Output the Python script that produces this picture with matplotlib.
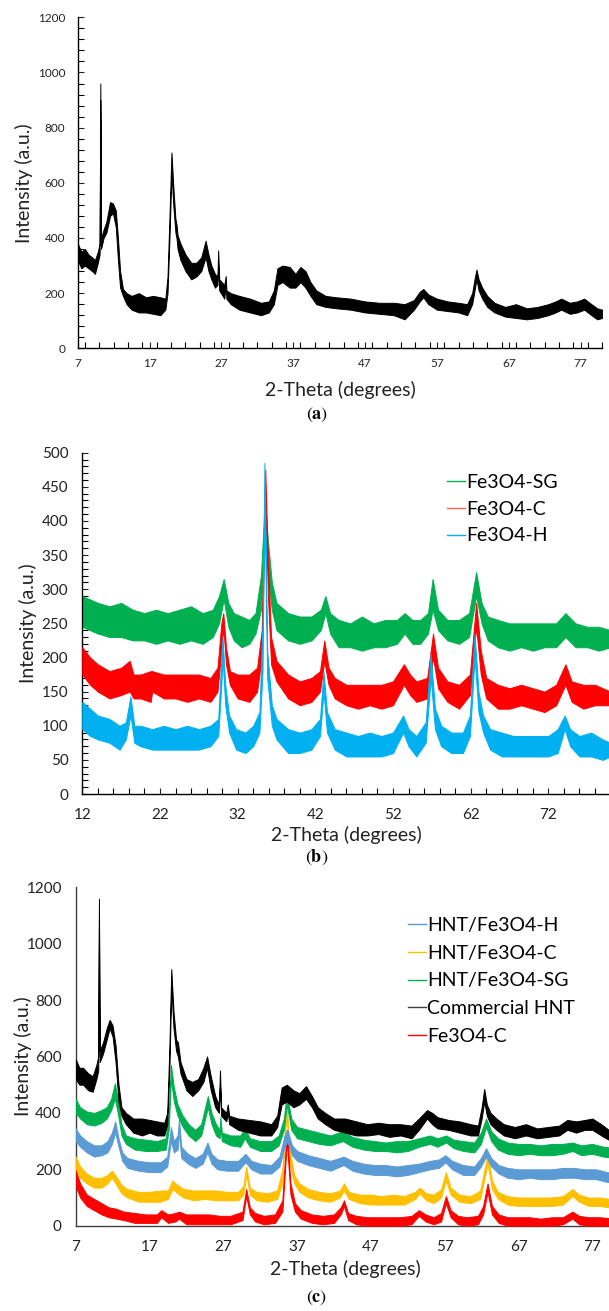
import matplotlib
matplotlib.use("Agg")
import matplotlib.pyplot as plt
from matplotlib.lines import Line2D
from matplotlib.ticker import MultipleLocator, FixedLocator

plt.rcParams['font.family'] = ['Lato', 'DejaVu Sans']
plt.rcParams['mathtext.fontset'] = 'stix'

# ---- data: (2-theta, lower edge of noise band, upper edge) ----
# panel (a): commercial HNT
a_hnt = [(7.0, 320, 380), (7.5, 290, 350), (8.0, 300, 360), (8.5, 290, 340), (9.0, 280, 330),
         (9.4, 270, 320), (9.8, 310, 350), (10.05, 340, 380), (10.15, 900, 960), (10.25, 360, 400),
         (10.6, 400, 430), (11.0, 420, 460), (11.5, 480, 530), (11.9, 490, 525), (12.3, 440, 500),
         (12.6, 320, 400), (12.9, 220, 280), (13.3, 190, 215), (13.8, 160, 200), (14.5, 140, 190),
         (15.5, 130, 200), (16.5, 130, 185), (17.5, 125, 190), (18.5, 120, 185), (19.2, 140, 180),
         (19.5, 200, 260), (19.8, 420, 500), (20.05, 640, 710), (20.3, 520, 590), (20.6, 420, 470),
         (20.75, 400, 450), (20.9, 360, 410), (21.3, 320, 380), (22.0, 280, 340), (22.8, 250, 310),
         (23.5, 260, 310), (24.2, 280, 330), (24.8, 330, 390), (25.2, 280, 340), (25.6, 250, 300),
         (26.1, 220, 270), (26.45, 230, 260), (26.55, 300, 355), (26.7, 210, 250), (27.4, 180, 230),
         (27.6, 230, 262), (27.7, 180, 210), (28.3, 160, 200), (29.5, 140, 190), (31.0, 130, 180),
         (32.5, 120, 165), (33.6, 130, 170), (34.3, 160, 210), (34.8, 230, 290), (35.5, 240, 300),
         (36.5, 220, 295), (37.3, 220, 270), (38.0, 240, 295), (38.7, 220, 280), (39.4, 190, 240),
         (40.2, 160, 210), (41.5, 150, 190), (43.0, 145, 185), (45.0, 140, 180), (47.0, 130, 170),
         (49.0, 125, 165), (51.0, 120, 165), (52.5, 105, 160), (53.8, 140, 175), (54.6, 170, 205),
         (55.1, 185, 215), (55.8, 160, 195), (57.0, 140, 180), (58.5, 135, 170), (60.0, 130, 165),
         (61.2, 120, 160), (61.9, 160, 200), (62.3, 220, 260), (62.5, 250, 285), (62.8, 210, 250),
         (63.3, 180, 220), (64.0, 150, 190), (65.0, 130, 165), (66.5, 115, 150), (68.0, 110, 160),
         (69.5, 105, 145), (71.0, 110, 150), (72.5, 120, 160), (73.5, 130, 170), (74.3, 140, 180),
         (75.5, 125, 165), (76.5, 130, 170), (77.5, 140, 180), (78.5, 120, 160), (79.3, 105, 145),
         (80.0, 110, 140)]

# panel (b): Fe3O4 samples
b_sg = [(12.0, 245, 290), (13.0, 240, 285), (14.0, 235, 280), (15.5, 230, 275), (17.0, 230, 280),
        (18.5, 225, 270), (20.0, 225, 265), (21.5, 220, 270), (23.0, 225, 265), (24.5, 220, 270),
        (26.0, 225, 275), (27.5, 220, 265), (28.8, 230, 270), (29.6, 250, 290), (30.2, 285, 315),
        (30.8, 245, 280), (31.5, 225, 265), (32.5, 215, 260), (33.5, 220, 255), (34.3, 235, 265),
        (35.0, 270, 320), (35.5, 380, 430), (35.9, 320, 370), (36.4, 270, 310), (37.0, 240, 280),
        (38.5, 225, 265), (40.0, 220, 260), (41.5, 225, 260), (42.7, 240, 270), (43.3, 265, 290),
        (43.9, 235, 265), (45.0, 215, 255), (46.5, 215, 250), (48.0, 210, 260), (49.5, 215, 250),
        (51.0, 215, 255), (52.5, 220, 255), (53.5, 235, 265), (54.5, 220, 255), (55.5, 220, 255),
        (56.5, 235, 265), (57.1, 270, 315), (57.8, 240, 270), (59.0, 225, 255), (60.5, 220, 255),
        (61.8, 230, 265), (62.7, 290, 325), (63.4, 250, 280), (64.2, 225, 260), (65.5, 215, 255),
        (67.0, 210, 250), (68.5, 215, 250), (70.0, 210, 250), (71.5, 215, 250), (73.0, 215, 250),
        (74.2, 230, 265), (75.5, 215, 250), (77.0, 215, 245), (78.5, 210, 245), (80.0, 215, 240)]

b_c = [(12.0, 175, 215), (13.0, 160, 200), (14.0, 150, 190), (15.5, 140, 180), (17.0, 145, 185),
       (18.1, 150, 195), (18.6, 140, 175), (19.5, 140, 175), (20.8, 135, 180), (21.0, 150, 180),
       (22.5, 140, 175), (24.0, 140, 175), (25.5, 135, 175), (27.0, 140, 175), (28.5, 135, 170),
       (29.4, 150, 185), (29.9, 210, 250), (30.15, 245, 265), (30.5, 190, 215), (31.0, 160, 180),
       (32.0, 140, 175), (33.5, 135, 175), (34.5, 150, 185), (35.1, 200, 240), (35.55, 440, 475),
       (35.9, 290, 340), (36.3, 190, 230), (37.0, 165, 195), (38.5, 140, 175), (40.0, 130, 165),
       (41.5, 135, 170), (42.6, 150, 180), (43.15, 195, 225), (43.7, 160, 185), (44.5, 140, 170),
       (46.0, 130, 160), (47.5, 125, 160), (49.0, 130, 160), (50.5, 125, 160), (52.0, 130, 165),
       (53.4, 160, 190), (54.2, 145, 175), (55.0, 135, 165), (56.4, 140, 170), (57.15, 200, 235),
       (57.8, 155, 185), (59.0, 135, 165), (60.5, 125, 160), (61.9, 145, 175), (62.7, 245, 280),
       (63.3, 175, 210), (64.0, 140, 170), (65.5, 125, 160), (67.0, 125, 155), (68.5, 130, 160),
       (70.0, 125, 155), (71.5, 120, 150), (73.0, 130, 160), (74.2, 160, 190), (75.0, 135, 165),
       (76.5, 125, 160), (78.0, 130, 160), (80.0, 130, 150)]

b_h = [(12.0, 95, 135), (13.0, 85, 125), (14.0, 80, 115), (15.5, 75, 110), (16.8, 65, 100),
       (17.6, 80, 105), (18.2, 115, 143), (18.7, 75, 100), (19.5, 70, 100), (21.0, 65, 95),
       (22.5, 65, 100), (24.0, 65, 95), (25.5, 65, 100), (27.0, 65, 95), (28.5, 70, 100),
       (29.5, 85, 110), (29.9, 160, 200), (30.05, 200, 230), (30.4, 130, 160), (30.9, 90, 115),
       (31.8, 65, 95), (33.0, 60, 90), (34.0, 70, 100), (34.8, 90, 120), (35.2, 180, 250),
       (35.45, 440, 485), (35.8, 170, 210), (36.4, 100, 130), (37.0, 80, 110), (38.5, 60, 95),
       (40.0, 60, 90), (41.5, 65, 95), (42.6, 85, 110), (43.05, 150, 180), (43.5, 90, 120),
       (44.5, 65, 95), (46.0, 55, 90), (47.5, 55, 85), (49.0, 55, 90), (50.5, 55, 85),
       (52.0, 60, 90), (53.3, 90, 115), (54.0, 70, 95), (55.0, 55, 85), (56.2, 75, 105),
       (56.85, 170, 205), (57.4, 95, 125), (58.2, 70, 100), (59.5, 60, 90), (61.0, 60, 90),
       (61.9, 85, 115), (62.5, 200, 235), (63.0, 120, 150), (63.6, 90, 115), (64.5, 65, 95),
       (66.0, 55, 90), (67.5, 55, 85), (69.0, 55, 85), (70.5, 55, 85), (72.0, 55, 85),
       (73.2, 60, 95), (74.1, 95, 115), (74.8, 70, 95), (76.0, 55, 85), (77.5, 55, 90),
       (79.0, 50, 80), (80.0, 55, 75)]

# panel (c): composites
c_hnt = [(7.0, 520, 590), (7.5, 500, 560), (8.0, 500, 560), (8.7, 480, 540), (9.3, 475, 530),
         (9.8, 520, 570), (10.05, 550, 600), (10.15, 1100, 1160), (10.25, 580, 620), (10.7, 610, 650),
         (11.2, 660, 700), (11.6, 700, 730), (12.0, 670, 710), (12.4, 580, 640), (12.8, 440, 500),
         (13.2, 390, 420), (13.8, 360, 400), (14.8, 330, 380), (16.0, 320, 380), (17.0, 330, 375),
         (18.0, 320, 370), (19.0, 320, 365), (19.4, 360, 400), (19.7, 560, 640), (19.95, 850, 910),
         (20.25, 700, 760), (20.6, 620, 660), (20.85, 600, 650), (21.2, 540, 580), (22.0, 480, 520),
         (22.8, 460, 510), (23.6, 480, 520), (24.3, 510, 560), (24.8, 560, 600), (25.3, 480, 530),
         (25.9, 420, 460), (26.4, 400, 430), (26.55, 500, 550), (26.7, 390, 420), (27.4, 370, 400),
         (27.6, 400, 430), (27.8, 360, 390), (29.0, 340, 380), (30.5, 330, 375), (32.0, 320, 370),
         (33.5, 320, 360), (34.3, 350, 390), (34.9, 430, 490), (35.6, 440, 500), (36.5, 420, 480),
         (37.3, 430, 470), (38.2, 450, 495), (39.0, 420, 460), (39.8, 380, 420), (40.8, 360, 400),
         (42.0, 340, 380), (43.5, 330, 380), (45.0, 320, 370), (46.5, 320, 360), (48.0, 325, 365),
         (49.5, 315, 360), (51.0, 320, 360), (52.5, 310, 355), (53.5, 340, 380), (54.6, 380, 410),
         (55.3, 360, 400), (56.0, 345, 385), (57.5, 340, 375), (59.0, 330, 370), (60.5, 320, 360),
         (61.5, 320, 355), (62.0, 380, 420), (62.35, 440, 485), (62.7, 390, 430), (63.2, 360, 400),
         (64.0, 340, 380), (65.0, 320, 360), (66.5, 310, 350), (68.0, 320, 360), (69.5, 310, 345),
         (71.0, 315, 350), (72.5, 320, 355), (73.6, 340, 375), (74.8, 330, 370), (76.0, 340, 375),
         (77.0, 340, 380), (78.2, 320, 360), (79.2, 305, 340), (80.0, 300, 330)]

c_sg = [(7.0, 400, 450), (7.6, 380, 420), (8.5, 360, 405), (9.5, 355, 400), (10.5, 365, 410),
        (11.2, 380, 420), (11.8, 410, 450), (12.3, 450, 505), (12.7, 400, 450), (13.2, 320, 360),
        (13.8, 290, 320), (15.0, 270, 310), (16.5, 265, 305), (18.0, 265, 300), (19.2, 270, 310),
        (19.6, 340, 400), (19.9, 520, 570), (20.3, 440, 490), (20.8, 390, 430), (21.5, 350, 390),
        (22.3, 320, 360), (23.2, 300, 340), (24.0, 320, 360), (24.9, 420, 460), (25.4, 360, 400),
        (26.0, 320, 360), (26.5, 310, 340), (26.6, 350, 385), (26.8, 300, 330), (28.0, 285, 320),
        (29.3, 280, 320), (29.9, 310, 345), (30.6, 280, 310), (32.0, 265, 300), (33.5, 265, 300),
        (34.5, 285, 320), (35.2, 340, 380), (35.6, 430, 470), (36.2, 340, 380), (37.0, 310, 350),
        (38.5, 300, 340), (40.0, 290, 330), (41.5, 285, 320), (43.2, 300, 335), (44.5, 280, 315),
        (46.0, 270, 305), (47.5, 265, 300), (49.0, 265, 295), (50.5, 260, 300), (52.0, 265, 300),
        (53.5, 280, 310), (55.0, 290, 320), (56.0, 280, 310), (57.2, 295, 320), (58.2, 275, 305),
        (59.5, 265, 300), (61.0, 260, 295), (61.9, 290, 330), (62.6, 350, 380), (63.3, 300, 335),
        (64.2, 270, 310), (65.5, 255, 295), (67.0, 250, 290), (68.5, 255, 290), (70.0, 250, 285),
        (71.5, 250, 290), (73.0, 255, 290), (74.3, 265, 295), (75.5, 250, 285), (77.0, 255, 290),
        (78.5, 245, 280), (80.0, 240, 275)]

c_h = [(7.0, 300, 345), (7.6, 280, 320), (8.5, 260, 300), (9.5, 245, 285), (10.5, 250, 285),
       (11.3, 260, 300), (11.9, 290, 330), (12.35, 330, 370), (12.8, 280, 310), (13.3, 230, 260),
       (14.0, 205, 240), (15.5, 195, 230), (17.0, 190, 225), (18.5, 190, 225), (19.4, 210, 245),
       (19.9, 300, 350), (20.3, 260, 300), (20.8, 270, 320), (21.0, 330, 380), (21.3, 240, 280),
       (22.2, 220, 255), (23.2, 205, 240), (24.2, 220, 255), (24.85, 260, 295), (25.4, 220, 255),
       (26.2, 200, 235), (27.5, 195, 230), (29.0, 195, 230), (30.0, 225, 255), (30.8, 200, 230),
       (32.0, 185, 220), (33.5, 185, 215), (34.6, 210, 245), (35.3, 280, 320), (35.7, 300, 340),
       (36.3, 250, 285), (37.0, 230, 265), (38.5, 215, 250), (40.0, 205, 240), (41.5, 195, 230),
       (43.3, 215, 245), (44.5, 195, 230), (46.0, 185, 220), (47.5, 180, 215), (49.0, 180, 215),
       (50.5, 175, 210), (52.0, 180, 215), (53.5, 190, 220), (55.0, 200, 230), (56.2, 205, 235),
       (57.1, 225, 250), (58.0, 200, 230), (59.5, 180, 215), (61.0, 180, 210), (61.9, 210, 240),
       (62.6, 245, 275), (63.3, 210, 240), (64.3, 185, 215), (65.5, 170, 205), (67.0, 165, 200),
       (68.5, 170, 200), (70.0, 165, 200), (71.5, 165, 200), (73.0, 170, 205), (74.5, 170, 205),
       (76.0, 165, 200), (77.5, 165, 200), (79.0, 155, 190), (80.0, 155, 185)]

c_c = [(7.0, 200, 245), (7.6, 170, 210), (8.5, 150, 185), (9.5, 135, 170), (10.5, 135, 170),
       (11.3, 150, 180), (11.9, 170, 195), (12.5, 145, 175), (13.2, 115, 145), (14.0, 100, 130),
       (15.5, 85, 120), (17.0, 85, 120), (18.5, 85, 125), (19.5, 95, 125), (20.1, 130, 160),
       (20.8, 115, 145), (21.6, 100, 130), (23.0, 90, 125), (24.5, 95, 125), (26.0, 90, 125),
       (27.5, 90, 120), (29.0, 90, 120), (29.7, 110, 140), (30.1, 180, 210), (30.6, 110, 135),
       (31.5, 90, 120), (33.0, 85, 115), (34.3, 95, 125), (35.0, 150, 200), (35.55, 400, 435),
       (36.0, 220, 270), (36.6, 150, 180), (37.3, 120, 150), (38.5, 100, 130), (40.0, 90, 120),
       (41.5, 85, 115), (42.8, 100, 125), (43.35, 125, 150), (44.0, 95, 120), (45.5, 80, 110),
       (47.0, 75, 110), (48.5, 75, 105), (50.0, 75, 110), (51.5, 75, 105), (53.0, 95, 120),
       (53.6, 115, 135), (54.5, 90, 115), (55.5, 80, 110), (56.5, 100, 130), (57.15, 160, 190),
       (57.8, 110, 135), (59.0, 85, 110), (60.5, 80, 105), (61.8, 95, 125), (62.8, 220, 255),
       (63.4, 130, 160), (64.2, 95, 120), (65.5, 75, 105), (67.0, 70, 100), (68.5, 70, 100),
       (70.0, 70, 100), (71.5, 70, 100), (73.0, 75, 105), (74.3, 105, 130), (75.2, 85, 110),
       (76.5, 70, 100), (78.0, 70, 100), (79.3, 65, 95), (80.0, 70, 95)]

c_fe = [(7.0, 140, 195), (7.6, 100, 150), (8.5, 70, 110), (9.5, 55, 95), (10.5, 40, 80),
        (11.5, 30, 65), (12.5, 25, 60), (13.5, 20, 50), (15.0, 10, 45), (16.5, 10, 40),
        (18.0, 10, 40), (18.6, 30, 55), (19.5, 10, 40), (20.5, 15, 45), (21.0, 25, 50),
        (22.0, 5, 40), (23.5, 5, 40), (25.0, 5, 40), (26.5, 5, 35), (28.0, 5, 35),
        (29.6, 20, 50), (30.1, 105, 130), (30.6, 40, 65), (31.3, 15, 45), (32.5, 5, 35),
        (34.0, 10, 40), (35.0, 50, 90), (35.6, 300, 340), (36.1, 110, 150), (36.7, 50, 80),
        (37.5, 25, 55), (39.0, 10, 40), (40.5, 5, 35), (42.0, 10, 40), (42.9, 40, 65),
        (43.35, 70, 90), (43.9, 20, 45), (45.0, 5, 35), (46.5, 0, 30), (48.0, 0, 30),
        (49.5, 0, 30), (51.0, 0, 30), (52.5, 5, 35), (53.5, 35, 55), (54.4, 15, 40),
        (55.5, 5, 30), (56.5, 15, 45), (57.15, 80, 105), (57.8, 30, 55), (58.8, 5, 35),
        (60.0, 0, 30), (61.5, 5, 35), (62.2, 40, 70), (62.8, 120, 150), (63.4, 40, 70),
        (64.3, 10, 40), (65.5, 0, 30), (67.0, 0, 30), (68.5, 0, 30), (70.0, 0, 25),
        (71.5, 0, 30), (73.0, 5, 30), (74.3, 25, 50), (75.2, 5, 35), (76.5, 0, 30),
        (78.0, 0, 30), (80.0, 0, 25)]

W, H = 609, 1311
fig = plt.figure(figsize=(W / 100, H / 100), dpi=100)


def px_axes(l, r, t, b):
    return fig.add_axes([l / W, 1 - b / H, (r - l) / W, (b - t) / H])


def trace(ax, data, color, z):
    tt, lo, hi = zip(*data)
    ax.fill_between(tt, lo, hi, color=color, lw=0.7, zorder=z)


def style(ax, xlim, ylim, xmaj, ymaj, xmin, ymin, fs, pad_x, pad_y, spine='black'):
    ax.set_xlim(*xlim)
    ax.set_ylim(*ylim)
    for s in ['top', 'right']:
        ax.spines[s].set_visible(False)
    for s in ['left', 'bottom']:
        ax.spines[s].set_color(spine)
        ax.spines[s].set_linewidth(1.0)
    ax.xaxis.set_major_locator(FixedLocator(xmaj))
    ax.yaxis.set_major_locator(MultipleLocator(ymaj))
    if xmin:
        ax.xaxis.set_minor_locator(MultipleLocator(xmin))
        ax.yaxis.set_minor_locator(MultipleLocator(ymin))
        ax.tick_params(which='both', direction='in', length=4, width=0.8, color=spine)
    else:
        ax.tick_params(which='both', length=0)
    ax.tick_params(axis='x', labelsize=fs, pad=pad_x, colors='#222222')
    ax.tick_params(axis='y', labelsize=fs, pad=pad_y, colors='#222222')
    ax.set_facecolor('none')


def labels(cx, xl_y, yl_x, yl_y, cap_y, letter):
    fig.text(cx / W, 1 - xl_y / H, '2-Theta (degrees)', ha='center', va='center', fontsize=14, color='#222222')
    fig.text(yl_x / W, 1 - yl_y / H, 'Intensity (a.u.)', ha='center', va='center', rotation=90,
             fontsize=14, color='#222222')
    fig.text(317 / W, 1 - cap_y / H, r'$(\mathbf{' + letter + '})$', ha='center', va='center', fontsize=13)


# ---- (a) ----
ax1 = px_axes(77.7, 602.2, 17.3, 348.3)
trace(ax1, a_hnt, 'black', 2)
style(ax1, (7, 80), (0, 1200), list(range(7, 80, 10)), 200, 2, 40, 8.5, 7, 9)
labels(340, 390, 24, 183, 415, 'a')

# ---- (b) ----
ax2 = px_axes(82.3, 610.5, 452.7, 794)
trace(ax2, b_sg, '#00B050', 2)
trace(ax2, b_c, '#FF0000', 3)
trace(ax2, b_h, '#00B0F0', 4)
style(ax2, (12, 80), (0, 500), list(range(12, 80, 10)), 50, 2, 10, 11, 10, 10)
labels(346, 835, 28, 623, 857, 'b')
hb = [Line2D([], [], color=c, lw=1.0) for c in ['#00B050', '#FF6060', '#00B0F0']]
ax2.legend(hb, ['Fe3O4-SG', 'Fe3O4-C', 'Fe3O4-H'], loc='upper left',
           bbox_to_anchor=(447 / W, 1 - 474 / H), bbox_transform=fig.transFigure,
           frameon=False, fontsize=14, handlelength=0.9, handletextpad=0.1,
           labelspacing=0.5, borderpad=0, borderaxespad=0)

# ---- (c) ----
ax3 = px_axes(75.7, 614.5, 887.3, 1225.7)
trace(ax3, c_hnt, 'black', 6)
trace(ax3, c_sg, '#00B050', 5)
trace(ax3, c_h, '#5B9BD5', 4)
trace(ax3, c_c, '#FFC000', 3)
trace(ax3, c_fe, '#FF0000', 3.5)
style(ax3, (7, 80), (0, 1200), list(range(7, 80, 10)), 200, None, None, 11, 10, 10, spine='#404040')
labels(345, 1269, 23, 1056, 1298, 'c')
hc = [Line2D([], [], color=c, lw=1.0) for c in ['#5B9BD5', '#FFC000', '#00B050', '#404040', '#FF0000']]
ax3.legend(hc, ['HNT/Fe3O4-H', 'HNT/Fe3O4-C', 'HNT/Fe3O4-SG', 'Commercial HNT', 'Fe3O4-C'],
           loc='upper left', bbox_to_anchor=(408 / W, 1 - 917 / H), bbox_transform=fig.transFigure,
           frameon=False, fontsize=14, handlelength=0.9, handletextpad=0.1,
           labelspacing=0.55, borderpad=0, borderaxespad=0)

fig.savefig('out.png', dpi=100)
